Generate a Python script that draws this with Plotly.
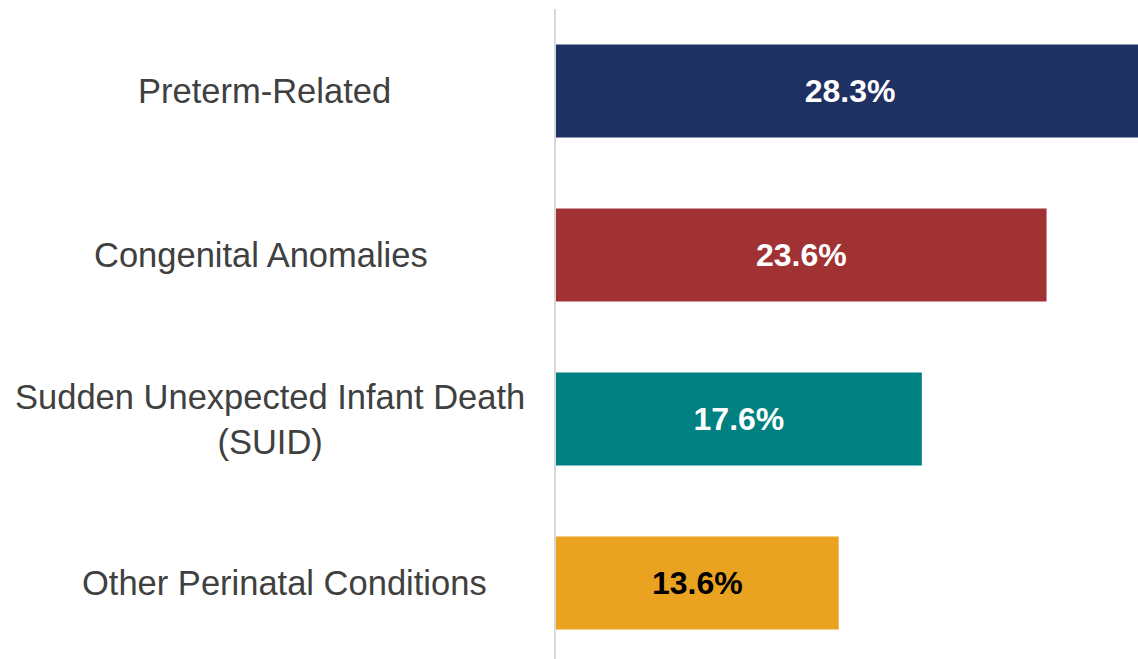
import plotly.graph_objects as go

categories = ["Preterm-Related", "Congenital Anomalies",
              "Sudden Unexpected Infant Death<br>(SUID)", "Other Perinatal Conditions"]
values = [28.3, 23.6, 17.6, 13.6]
value_labels = ["28.3%", "23.6%", "17.6%", "13.6%"]
bar_colors = ["#1F3162", "#A03234", "#008080", "#EAA221"]
text_colors = ["#FFFFFF", "#FFFFFF", "#FFFFFF", "#000000"]

# horizontal centre of each category label, in pixels from the left edge (style only)
label_centres_px = [264, 261, 270, 284]

FONT = "Liberation Sans, Arial, Helvetica, sans-serif"
W, H = 1138, 659
ML = 556

fig = go.Figure(go.Bar(
    x=values, y=categories, orientation="h",
    marker=dict(color=bar_colors, line=dict(width=0)),
    width=0.567,
    text=value_labels, textposition="inside", insidetextanchor="middle",
    textangle=0,
    textfont=dict(family=FONT, size=32, color=text_colors, weight="bold"),
    cliponaxis=True,
    hoverinfo="skip",
))

for c, px in zip(categories, label_centres_px):
    fig.add_annotation(
        x=(px - ML) / (W - ML), xref="paper", y=c, yref="y",
        text=c, showarrow=False, xanchor="center", yanchor="middle", align="center",
        font=dict(family=FONT, size=34.5, color="#404040"),
    )

fig.update_layout(
    width=W, height=H,
    margin=dict(l=ML, r=0, t=9, b=0),
    plot_bgcolor="white", paper_bgcolor="white",
    showlegend=False,
    uniformtext=dict(mode=False),
)
fig.update_xaxes(range=[0, 28], showgrid=False, zeroline=False, showticklabels=False,
                 showline=False, ticks="")
fig.update_yaxes(range=[3.463, -0.5], showticklabels=False, showgrid=False, zeroline=False,
                 showline=True, linecolor="#D9D9D9", linewidth=1.5, ticks="")

fig.write_html(
    "out.html",
    config={"displayModeBar": False},
    post_script="document.body.style.margin='0';document.body.style.overflow='hidden';",
)
